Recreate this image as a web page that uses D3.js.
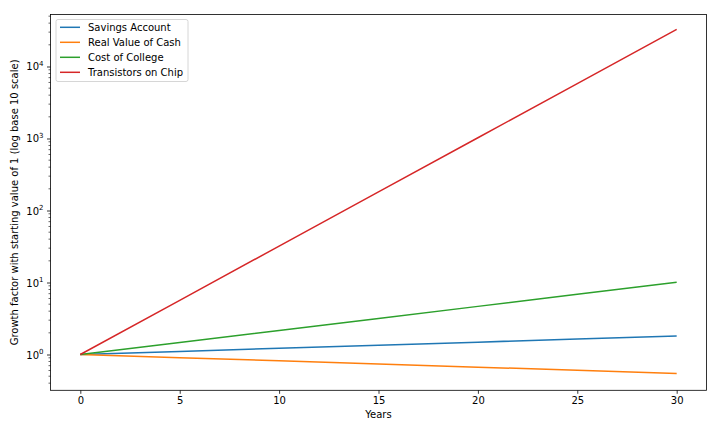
<!DOCTYPE html>
<html><head><meta charset="utf-8">
<script src="https://cdn.jsdelivr.net/npm/d3@7"></script>
<style>body{margin:0;background:#fff}svg{display:block}text{font-family:"DejaVu Sans",sans-serif;fill:#000}</style>
</head><body><svg id="c" width="720" height="432"></svg>
<script>
const years = [0, 5, 10, 15, 20, 25, 30];
const savings = [1, 1.104, 1.219, 1.346, 1.486, 1.641, 1.811];
const cash = [1, 0.904, 0.817, 0.739, 0.668, 0.603, 0.545];
const college = [1, 1.469, 2.159, 3.172, 4.661, 6.848, 10.06];
const transistors = [1, 5.66, 32, 181, 1024, 5793, 32768];
const seriesNames = ["Savings Account", "Real Value of Cash", "Cost of College", "Transistors on Chip"];
const seriesColors = ["#1f77b4", "#ff7f0e", "#2ca02c", "#d62728"];
const xTicks = [0, 5, 10, 15, 20, 25, 30];
const yTickExps = [0, 1, 2, 3, 4];

const seriesData = [savings, cash, college, transistors];
const L = 50.5, R = 706.5, T = 14.5, B = 390.3;
const svg = d3.select("#c");
const x = d3.scaleLinear().domain([-1.5, 31.5]).range([L, R]);
const y = d3.scaleLog().domain([Math.pow(10, -0.497), Math.pow(10, 4.722)]).range([B, T]);

// lines
const line = d3.line().x(d => x(d[0])).y(d => y(d[1]));
const clip = svg.append("clipPath").attr("id", "cp").append("rect")
  .attr("x", L).attr("y", T).attr("width", R - L).attr("height", B - T);
seriesData.forEach((s, i) => {
  svg.append("path").datum(years.map((yr, j) => [yr, s[j]]))
    .attr("d", line).attr("fill", "none").attr("stroke", seriesColors[i])
    .attr("stroke-width", 1.5).attr("clip-path", "url(#cp)");
});

// x axis
const xa = svg.append("g").attr("transform", `translate(0,${B})`)
  .call(d3.axisBottom(x).tickValues(xTicks).tickSize(3.5).tickPadding(3.5).tickFormat(d3.format("d")));
xa.select(".domain").remove();
xa.selectAll("line").attr("stroke", "#000").attr("stroke-width", 0.8);
xa.selectAll("text").attr("font-size", 10).attr("font-family", "DejaVu Sans").attr("fill", "#000");

// y axis major
const yg = svg.append("g").attr("transform", `translate(${L},0)`);
const majors = yTickExps.map(e => Math.pow(10, e));
yg.call(d3.axisLeft(y).tickValues(majors).tickSize(3.5).tickPadding(3.5).tickFormat(""));
yg.select(".domain").remove();
yg.selectAll("line").attr("stroke", "#000").attr("stroke-width", 0.8);
// minor ticks
const [d0, d1] = y.domain();
const minors = [];
for (let e = -1; e <= 5; e++) for (let m = 2; m <= 9; m++) {
  const v = m * Math.pow(10, e);
  if (v >= d0 && v <= d1) minors.push(v);
}
svg.append("g").selectAll("line").data(minors).join("line")
  .attr("x1", L - 2).attr("x2", L).attr("y1", d => y(d)).attr("y2", d => y(d))
  .attr("stroke", "#000").attr("stroke-width", 0.6);
// labels
yTickExps.forEach(e => {
  const t = svg.append("text").attr("x", L - 7).attr("y", y(Math.pow(10, e)) + 4)
    .attr("text-anchor", "end").attr("font-size", 10);
  t.append("tspan").text("10");
  t.append("tspan").attr("font-size", 7).attr("dy", -4.5).text(e);
});

// frame
svg.append("rect").attr("x", L).attr("y", T).attr("width", R - L).attr("height", B - T)
  .attr("fill", "none").attr("stroke", "#000").attr("stroke-width", 0.8);

// axis titles
svg.append("text").attr("x", (L + R) / 2).attr("y", 418).attr("text-anchor", "middle")
  .attr("font-size", 10).text("Years");
svg.append("text").attr("transform", `translate(18,${(T + B) / 2}) rotate(-90)`)
  .attr("text-anchor", "middle").attr("font-size", 10)
  .text("Growth factor with starting value of 1 (log base 10 scale)");

// legend
const lg = svg.append("g");
lg.append("rect").attr("x", 56).attr("y", 19.5).attr("width", 132).attr("height", 62).attr("rx", 2)
  .attr("fill", "#fff").attr("fill-opacity", 0.8).attr("stroke", "#cccccc").attr("stroke-width", 0.8);
seriesNames.forEach((n, i) => {
  const yy = 27.3 + i * 15;
  lg.append("line").attr("x1", 60).attr("x2", 80).attr("y1", yy).attr("y2", yy)
    .attr("stroke", seriesColors[i]).attr("stroke-width", 1.5);
  lg.append("text").attr("x", 88).attr("y", yy + 3.6).attr("font-size", 10).text(n);
});
</script></body></html>
